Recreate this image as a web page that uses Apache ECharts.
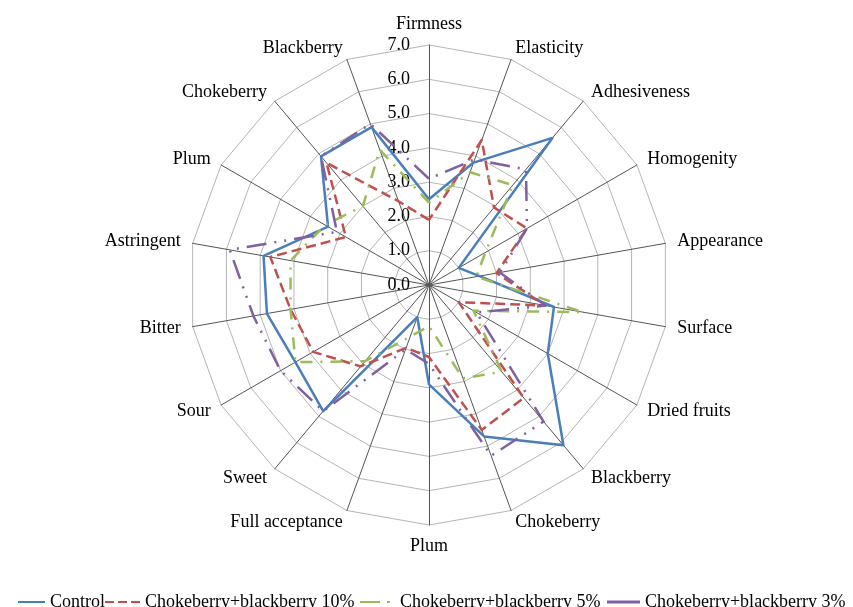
<!DOCTYPE html>
<html><head><meta charset="utf-8">
<script src="https://cdn.jsdelivr.net/npm/echarts@6.0.0/dist/echarts.min.js"></script>
<style>html,body{margin:0;padding:0;background:#fff}#c{width:853px;height:607px}</style>
</head><body><div id="c"></div>
<script>
// clockwise from the top axis
const categories = ['Firmness','Elasticity','Adhesiveness','Homogenity','Appearance','Surface','Dried fruits','Blackberry','Chokeberry','Plum','Full acceptance','Sweet','Sour','Bitter','Astringent','Plum','Chokeberry','Blackberry'];
const radialTicks = ['0.0','1.0','2.0','3.0','4.0','5.0','6.0','7.0'];
const seriesNames = ['Control','Chokeberry+blackberry 10%','Chokeberry+blackberry 5%','Chokeberry+blackberry 3%'];
const control = [2.5, 3.8, 5.6, 1.0, 1.5, 3.7, 4.0, 6.1, 4.7, 2.9, 1.0, 4.8, 4.5, 4.8, 4.9, 3.4, 4.9, 4.9];
const cb10    = [1.9, 4.5, 2.95, 3.3, 2.0, 3.45, 1.0, 4.3, 4.5, 2.1, 1.95, 3.1, 3.9, 4.1, 4.7, 2.8, 4.65, 2.6];
const cb5     = [2.4, 3.5, 3.8, 1.9, 1.4, 4.55, 1.5, 3.3, 2.9, 1.2, 1.6, 2.9, 4.5, 4.1, 4.1, 3.5, 3.0, 4.2];
const cb3     = [3.1, 3.9, 4.4, 3.3, 2.1, 3.45, 1.6, 5.2, 5.3, 2.3, 2.0, 4.8, 5.0, 5.2, 5.9, 3.1, 4.9, 5.0];

const colors = ['#4a7ebb', '#c0504d', '#9bbb59', '#7f60a3'];
const dashes = ['solid', [10, 5], [12, 8, 2, 8], [20, 8, 2, 8, 2, 8]];
const FONT = 'Liberation Serif';

// ECharts places radar indicators counter-clockwise; reorder so they run clockwise
const cw = arr => [arr[0]].concat(arr.slice(1).reverse());
const values = [control, cb10, cb5, cb3];

const legendIcons = [
  'path://M0,0H27V2H0Z',
  'path://M0,0H9V2H0Z M13,0H22V2H13Z M26,0H35V2H26Z',
  'path://M0,0H20V2H0Z M27,0H30V2H27Z M34.99,0H35V2H34.99Z',
  'path://M0,0H33V3H0Z'
];
const legendLeft = [18, 105, 360, 607];
const legendW = [27, 35, 35, 33];
const legendH = [2, 2, 2, 3];

const chart = echarts.init(document.getElementById('c'), null, {renderer: 'canvas'});
chart.setOption({
  backgroundColor: '#fff',
  animation: false,
  radar: {
    center: [429, 285],
    radius: 240,
    startAngle: 90,
    shape: 'polygon',
    splitNumber: 7,
    indicator: cw(categories).map(n => ({name: n, min: 0, max: 7})),
    axisName: {color: '#000', fontSize: 18, fontFamily: FONT},
    nameGap: 12,
    axisLine: {lineStyle: {color: '#555', width: 1}},
    splitLine: {lineStyle: {color: '#b5b5b5', width: 1}},
    splitArea: {show: false},
    axisTick: {show: false},
    axisLabel: {show: false}
  },
  polar: {center: [429, 285], radius: 240},
  angleAxis: {type: 'value', min: 0, max: 360, startAngle: 90, show: false},
  radiusAxis: {
    type: 'value', min: 0, max: 7, interval: 1,
    axisLine: {show: false}, axisTick: {show: false}, splitLine: {show: false},
    axisLabel: {formatter: v => radialTicks[Math.round(v)], fontSize: 18, fontFamily: FONT, color: '#000', margin: 19}
  },
  legend: seriesNames.map((n, i) => ({
    data: [{name: n, icon: legendIcons[i], itemStyle: {color: colors[i], borderWidth: 0}}],
    left: legendLeft[i], top: 593, padding: 0,
    itemWidth: legendW[i], itemHeight: legendH[i],
    selectedMode: false,
    textStyle: {fontSize: 18, fontFamily: FONT, color: '#000'}
  })),
  series: [{
    type: 'radar',
    symbol: 'none',
    data: seriesNames.map((n, i) => ({
      name: n,
      value: cw(values[i]),
      lineStyle: {color: colors[i], width: 2.5, type: dashes[i]},
      itemStyle: {color: colors[i]}
    }))
  }]
});
</script>
</body></html>
